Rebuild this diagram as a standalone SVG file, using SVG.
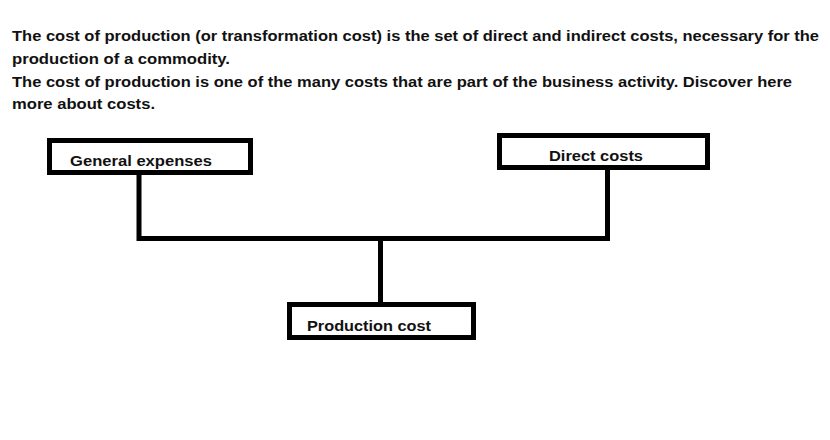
<svg xmlns="http://www.w3.org/2000/svg" width="830" height="440" viewBox="0 0 830 440">
<style>
text{font-family:"Liberation Sans",Arial,sans-serif;font-weight:bold;font-size:15px;fill:#111}
.box{fill:#fff;stroke:#000;stroke-width:5}
.conn{fill:none;stroke:#000;stroke-width:5;stroke-linejoin:miter;stroke-linecap:square}
</style>
<rect width="830" height="440" fill="#fff"/>
<g id="intro">
<text x="12" y="41" textLength="807" lengthAdjust="spacingAndGlyphs">The cost of production (or transformation cost) is the set of direct and indirect costs, necessary for the</text>
<text x="12" y="64" textLength="218" lengthAdjust="spacingAndGlyphs">production of a commodity.</text>
<text x="12" y="87" textLength="780" lengthAdjust="spacingAndGlyphs">The cost of production is one of the many costs that are part of the business activity. Discover here</text>
<text x="12" y="109" textLength="143" lengthAdjust="spacingAndGlyphs">more about costs.</text>
</g>
<g id="connectors">
<polyline class="conn" points="139,175 139,238.5 607.5,238.5 607.5,170"/>
<line class="conn" x1="380.5" y1="238.5" x2="380.5" y2="302"/>
</g>
<g id="general-expenses">
<rect class="box" x="49.5" y="140.5" width="201" height="32"/>
<text x="70" y="166" textLength="142" lengthAdjust="spacingAndGlyphs">General expenses</text>
</g>
<g id="direct-costs">
<rect class="box" x="499.5" y="135.5" width="208" height="32"/>
<text x="549" y="161" textLength="94" lengthAdjust="spacingAndGlyphs">Direct costs</text>
</g>
<g id="production-cost">
<rect class="box" x="289.5" y="304.5" width="184" height="33"/>
<text x="307" y="331" textLength="124" lengthAdjust="spacingAndGlyphs">Production cost</text>
</g>
</svg>
